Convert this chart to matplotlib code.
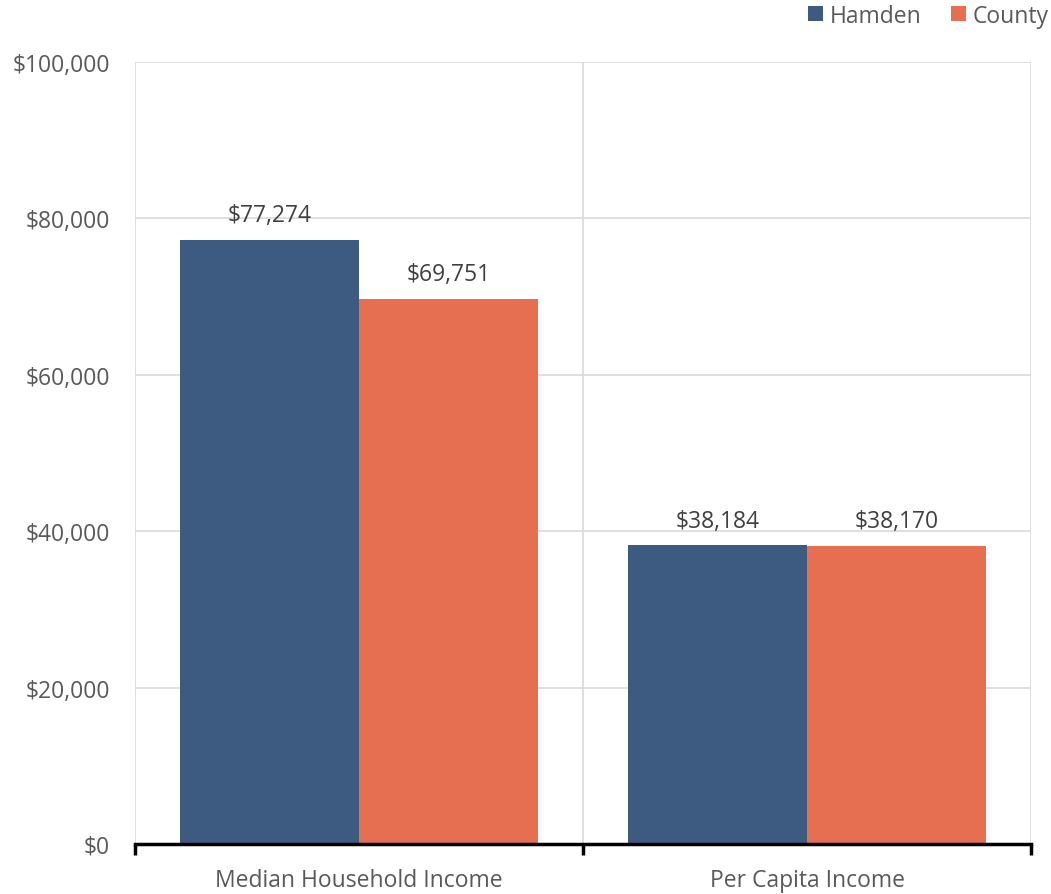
import numpy as np
import matplotlib
matplotlib.use('Agg')
import matplotlib.pyplot as plt
from matplotlib.ticker import FuncFormatter, FixedLocator

# data
categories = ['Median Household Income', 'Per Capita Income']
hamden = [77274, 38184]
county = [69751, 38170]
series_names = ['Hamden', 'County']
colors = ['#3d5a80', '#e76f51']

plt.rcParams['font.family'] = ['Open Sans', 'DejaVu Sans']
text_color = '#595959'
fs = 16.5

fig = plt.figure(figsize=(10.51, 8.95), dpi=100)
ax = fig.add_axes([135 / 1051, 1 - 845 / 895, (1031 - 135) / 1051, (845 - 63) / 895])

x = np.arange(len(categories))
w = 0.4
for vals, name, c, off in zip([hamden, county], series_names, colors, [-w / 2, w / 2]):
    bars = ax.bar(x + off, vals, width=w, color=c, label=name, zorder=2)
    for b, v in zip(bars, vals):
        ax.annotate(f'${v:,}', (b.get_x() + b.get_width() / 2, v),
                    xytext=(0, 9), textcoords='offset points',
                    ha='center', va='bottom', fontsize=fs, color='#404040')

ax.set_xlim(-0.5, len(categories) - 0.5)
ax.set_ylim(0, 100000)
ax.set_yticks(np.arange(0, 100001, 20000))
ax.yaxis.set_major_formatter(FuncFormatter(lambda v, p: f'${v:,.0f}'))

# category labels at centres, tick marks at the boundaries
ax.set_xticks(x)
ax.set_xticklabels(categories)
ax.xaxis.set_minor_locator(FixedLocator(np.arange(-0.5, len(categories), 1.0)))
ax.tick_params(axis='x', which='major', length=0, pad=17, labelsize=fs, labelcolor=text_color)
ax.tick_params(axis='x', which='minor', length=8, width=2.5, color='black', direction='out')
ax.tick_params(axis='y', length=0, pad=18, labelsize=fs, labelcolor=text_color)

ax.grid(axis='y', color='#d9d9d9', linewidth=1.2, zorder=0)
ax.grid(axis='x', which='minor', color='#d9d9d9', linewidth=1.2, zorder=0)
for s in ['top', 'right', 'left']:
    ax.spines[s].set_visible(False)
ax.spines['bottom'].set_color('black')
ax.spines['bottom'].set_linewidth(2.5)
ax.spines['bottom'].set_zorder(3)

fig.legend(loc='upper right', bbox_to_anchor=(1.011, 1.01), ncol=2, frameon=False,
           fontsize=fs, labelcolor=text_color, handlelength=0.65, handleheight=0.65,
           handletextpad=0.3, columnspacing=1.3, borderaxespad=0.2)

fig.savefig('out.png', dpi=100)
